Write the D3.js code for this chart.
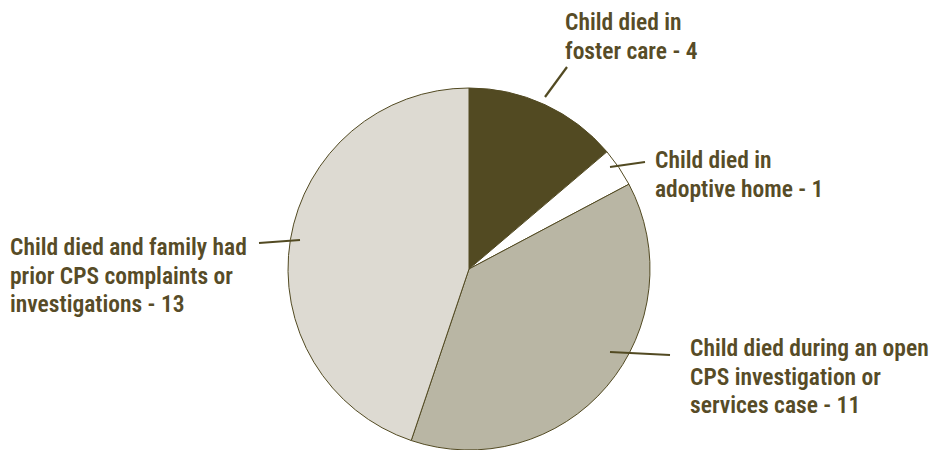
<!DOCTYPE html>
<html>
<head>
<meta charset="utf-8">
<script src="https://cdn.jsdelivr.net/npm/d3@7"></script>
<style>
  body { margin: 0; background: #fff; }
  text { font-family: "Liberation Sans Narrow", "Roboto", sans-serif; font-stretch: condensed; }
</style>
</head>
<body>
<div id="chart"></div>
<script>
// data
var categories = ['Child died in foster care', 'Child died in adoptive home',
  'Child died during an open CPS investigation or services case',
  'Child died and family had prior CPS complaints or investigations'];
var values = [4, 1, 11, 13];
var labelLines = [
  ['Child died in', 'foster care - 4'],
  ['Child died in', 'adoptive home - 1'],
  ['Child died during an open', 'CPS investigation or', 'services case - 11'],
  ['Child died and family had', 'prior CPS complaints or', 'investigations - 13']
];
var colors = ['#524a22', '#ffffff', '#b9b6a4', '#dddad2'];

var width = 932, height = 450;
var cx = 469, cy = 269, r = 181;
var textColor = '#574c27';

// label layout: text start, leader start / end
var layout = [
  {x: 565, y: 30, sx: 545, sy: 97, lx: 567, ly: 67},
  {x: 655, y: 168, sx: 610, sy: 167, lx: 645, ly: 162},
  {x: 690, y: 356, sx: 610, sy: 352, lx: 670, ly: 355},
  {x: 10, y: 255, sx: 300, sy: 240, lx: 259, ly: 243}
];

var svg = d3.select('#chart').append('svg')
  .attr('width', width).attr('height', height);

var g = svg.append('g').attr('transform', 'translate(' + cx + ',' + cy + ')');

var pie = d3.pie().sort(null).value(function(d) { return d; });
var arcs = pie(values);
var arc = d3.arc().innerRadius(0).outerRadius(r);

g.selectAll('path.slice')
  .data(arcs)
  .enter().append('path')
  .attr('class', 'slice')
  .attr('d', arc)
  .attr('fill', function(d, i) { return colors[i]; })
  .attr('stroke', '#524a22')
  .attr('stroke-width', 1);

svg.selectAll('line.leader')
  .data(layout)
  .enter().append('line')
  .attr('class', 'leader')
  .attr('x1', function(d) { return d.sx; })
  .attr('y1', function(d) { return d.sy; })
  .attr('x2', function(d) { return d.lx; })
  .attr('y2', function(d) { return d.ly; })
  .attr('stroke', '#524a22')
  .attr('stroke-width', 2.2);

labelLines.forEach(function(lines, i) {
  var t = svg.append('text')
    .attr('x', layout[i].x)
    .attr('y', layout[i].y)
    .attr('fill', textColor)
    .style('font-size', '23.5px')
    .style('font-weight', '600');
  lines.forEach(function(s, j) {
    t.append('tspan').attr('x', layout[i].x).attr('dy', j == 0 ? 0 : 28.5).text(s);
  });
});
</script>
</body>
</html>
